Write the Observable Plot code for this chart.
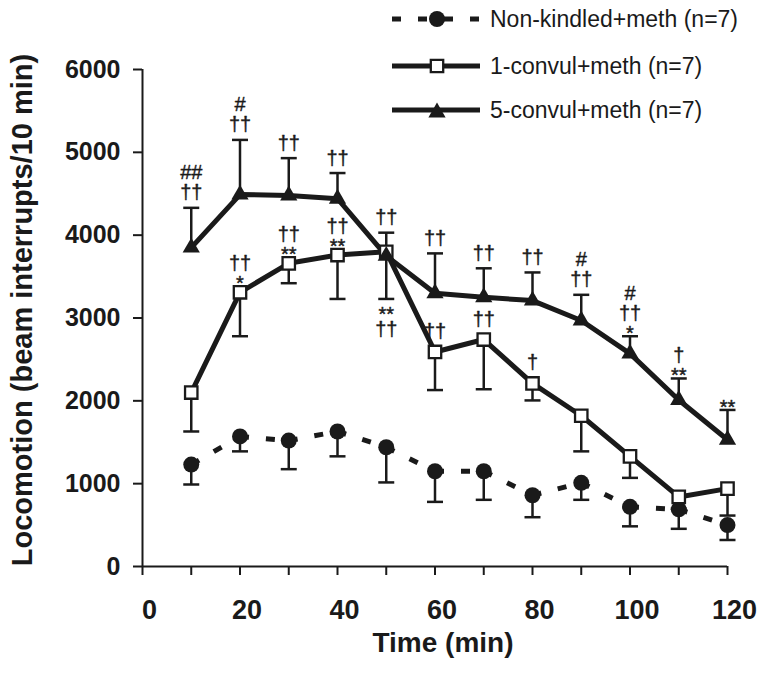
<!DOCTYPE html>
<html><head><meta charset="utf-8">
<script src="https://cdn.jsdelivr.net/npm/d3@7"></script>
<script src="https://cdn.jsdelivr.net/npm/@observablehq/plot@0.6"></script>
<style>
body{margin:0;background:#fff;font-family:"Liberation Sans",Arial,sans-serif;}
#wrap{position:relative;width:769px;height:680px;overflow:hidden;}
.lrow{position:absolute;left:392px;height:30px;display:flex;align-items:center;white-space:nowrap;}
.lrow span{font-size:23px;color:#1a1a1a;margin-left:10px;line-height:30px;}
</style></head><body>
<div id="wrap"><div id="chart"></div><div id="legend"></div></div>
<script>
// ---- data ----
const times = [10, 20, 30, 40, 50, 60, 70, 80, 90, 100, 110, 120];
const nkMean = [1230, 1570, 1520, 1630, 1440, 1150, 1150, 860, 1010, 720, 690, 500];
const nkSem  = [240, 180, 345, 300, 425, 370, 345, 265, 205, 235, 235, 180];
const c1Mean = [2100, 3310, 3660, 3760, 3800, 2590, 2740, 2210, 1820, 1330, 840, 940];
const c1Sem  = [470, 530, 240, 530, 570, 460, 600, 205, 430, 260, 140, 325];
const c5Mean = [3850, 4490, 4480, 4440, 3750, 3300, 3250, 3210, 2970, 2570, 2010, 1530];
const c5Sem  = [480, 660, 450, 310, 280, 480, 350, 340, 310, 210, 260, 360];
const c5Sig = ["##\n††", "#\n††", "††", "††", "††", "††", "††", "††", "#\n††", "#\n††\n*", "†\n**", "**"];
const c1Sig = ["", "††\n*", "††\n**", "††\n**", "**\n††", "††", "††", "†", "", "", "", ""];
const seriesNames = ["Non-kindled+meth (n=7)", "1-convul+meth (n=7)", "5-convul+meth (n=7)"];
const yTicks = [0, 1000, 2000, 3000, 4000, 5000, 6000];
const xTicks = [0, 10, 20, 30, 40, 50, 60, 70, 80, 90, 100, 110, 120];
const xTickLabels = [0, 20, 40, 60, 80, 100, 120];
const xTitle = "Time (min)";
const yTitle = "Locomotion (beam interrupts/10 min)";

// ---- derived tables ----
const ink = "#1a1a1a";
const nk = times.map((t, i) => ({t, m: nkMean[i], end: nkMean[i] - nkSem[i]}));
const c1 = times.map((t, i) => ({t, m: c1Mean[i], end: c1Mean[i] - c1Sem[i], sig: c1Sig[i], near: Math.abs(c5Mean[i] - c1Mean[i]) < 200}));
const c5 = times.map((t, i) => ({t, m: c5Mean[i], end: c5Mean[i] + c5Sem[i], sig: c5Sig[i]}));
const starLast = s => s.split("\n").pop().startsWith("*");

const cap = {draw(ctx, size) { const r = Math.sqrt(size / Math.PI); ctx.moveTo(-r, 0); ctx.lineTo(r, 0); }};

const bars = (rows) => [
  Plot.ruleX(rows, {x: "t", y1: "m", y2: "end", stroke: ink, strokeWidth: 2.5}),
  Plot.dot(rows, {x: "t", y: "end", symbol: cap, r: 8, stroke: ink, strokeWidth: 2.5, fill: "none"})
];
const sigFont = {fill: ink, stroke: ink, strokeWidth: 0.4, fontSize: 20, fontFamily: "Liberation Sans, Arial, sans-serif", lineHeight: 1};

const chart = Plot.plot({
  width: 769, height: 680,
  marginLeft: 142, marginRight: 42, marginTop: 69, marginBottom: 114,
  x: {domain: [0, 120]},
  y: {domain: [0, 6000]},
  style: {fontFamily: "Liberation Sans, Arial, sans-serif", background: "#fff", color: ink, overflow: "visible"},
  marks: [
    Plot.ruleX([0], {stroke: ink, strokeWidth: 2}),
    Plot.ruleY([0], {stroke: ink, strokeWidth: 2}),
    Plot.axisY({ticks: yTicks, tickSize: 9, tickPadding: 13, strokeWidth: 2, fontSize: 25, fontWeight: "bold", label: null, tickFormat: d => String(d)}),
    Plot.axisX({ticks: xTicks, tickSize: 9, strokeWidth: 2, label: null, tickFormat: () => ""}),
    Plot.axisX({ticks: xTickLabels, tickSize: 0, tickPadding: 33, fontSize: 27, fontWeight: "bold", label: null, dx: 7,
      tickFormat: d => String(d)}),
    Plot.text([yTitle], {frameAnchor: "left", textAnchor: "middle", rotate: -90, dx: -120, dy: -8, fontSize: 29, fontWeight: "bold", fill: ink}),
    Plot.text([xTitle], {frameAnchor: "bottom", textAnchor: "middle", lineAnchor: "bottom", dx: 8, dy: 85, fontSize: 28, fontWeight: "bold", fill: ink}),
    // error bars
    ...bars(nk), ...bars(c1), ...bars(c5),
    // lines
    Plot.link(d3.pairs(nk), {x1: d => d[0].t, y1: d => d[0].m, x2: d => d[1].t, y2: d => d[1].m,
      stroke: ink, strokeWidth: 5, strokeDasharray: "9,17", strokeLinecap: "butt"}),
    Plot.line(c1, {x: "t", y: "m", stroke: ink, strokeWidth: 5}),
    Plot.line(c5, {x: "t", y: "m", stroke: ink, strokeWidth: 5}),
    // markers
    Plot.dot(nk, {x: "t", y: "m", symbol: d3.symbolCircle, r: 8, fill: ink, stroke: "none"}),
    Plot.dot(c1, {x: "t", y: "m", symbol: d3.symbolSquare, r: 7, fill: "#fff", stroke: ink, strokeWidth: 2.3}),
    Plot.dot(c5, {x: "t", y: "m", symbol: d3.symbolTriangle, r: 6.4, fill: ink, stroke: "none"}),
    // significance marks
    Plot.text(c5.filter(d => d.sig && !starLast(d.sig)), {x: "t", y: "end", text: "sig", lineAnchor: "bottom", dy: -8.5, ...sigFont}),
    Plot.text(c5.filter(d => d.sig && starLast(d.sig)), {x: "t", y: "end", text: "sig", lineAnchor: "bottom", dy: 4, ...sigFont}),
    Plot.text(c1.filter(d => d.sig && !d.near && starLast(d.sig)), {x: "t", y: "m", text: "sig", lineAnchor: "bottom", dy: -2, ...sigFont}),
    Plot.text(c1.filter(d => d.sig && !d.near && !starLast(d.sig)), {x: "t", y: "m", text: "sig", lineAnchor: "bottom", dy: -14, ...sigFont}),
    Plot.text(c1.filter(d => d.sig && d.near), {x: "t", y: "end", text: "sig", lineAnchor: "top", dy: 11, ...sigFont, lineHeight: 0.75})
  ]
});
document.getElementById("chart").appendChild(chart);

// ---- legend ----
const legendCenters = [19, 66, 110];
const legend = d3.select("#legend");
seriesNames.forEach((name, i) => {
  const row = legend.append("div").attr("class", "lrow").style("top", (legendCenters[i] - 15) + "px");
  const svg = row.append("svg").attr("width", 88).attr("height", 30);
  svg.append("line").attr("x1", 0).attr("x2", 88).attr("y1", 15).attr("y2", 15)
    .attr("stroke", ink).attr("stroke-width", 5).attr("stroke-dasharray", i === 0 ? "9,17" : null);
  const g = svg.append("g").attr("transform", "translate(45,15)");
  if (i === 0) g.append("path").attr("d", d3.symbol(d3.symbolCircle, Math.PI * 64)()).attr("fill", ink);
  if (i === 1) g.append("path").attr("d", d3.symbol(d3.symbolSquare, Math.PI * 49)()).attr("fill", "#fff").attr("stroke", ink).attr("stroke-width", 2.3);
  if (i === 2) g.append("path").attr("transform", "translate(0,2.4)").attr("d", d3.symbol(d3.symbolTriangle, Math.PI * 6.4 * 6.4)()).attr("fill", ink);
  row.append("span").text(name);
});
</script>
</body></html>
